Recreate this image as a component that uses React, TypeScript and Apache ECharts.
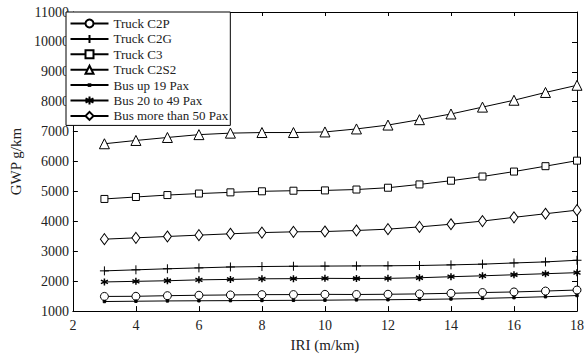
import React, { useEffect, useRef } from "react";
import * as echarts from "echarts";

const iri = [3, 4, 5, 6, 7, 8, 9, 10, 11, 12, 13, 14, 15, 16, 17, 18];
const truckC2P = [1490, 1495, 1515, 1530, 1540, 1550, 1552, 1560, 1555, 1563, 1575, 1595, 1620, 1640, 1670, 1705];
const truckC2G = [2345, 2380, 2415, 2445, 2475, 2490, 2500, 2505, 2510, 2515, 2525, 2545, 2570, 2610, 2645, 2700];
const truckC3 = [4750, 4815, 4880, 4930, 4970, 5005, 5025, 5035, 5065, 5125, 5235, 5360, 5500, 5665, 5845, 6030];
const truckC2S2 = [6595, 6705, 6805, 6900, 6950, 6970, 6970, 6990, 7090, 7220, 7400, 7590, 7820, 8050, 8310, 8550];
const busUp19 = [1320, 1330, 1340, 1345, 1350, 1355, 1360, 1365, 1375, 1380, 1390, 1405, 1425, 1450, 1480, 1520];
const bus20to49 = [1975, 1995, 2015, 2045, 2060, 2080, 2085, 2095, 2090, 2095, 2115, 2150, 2180, 2215, 2250, 2285];
const busOver50 = [3405, 3450, 3495, 3540, 3585, 3625, 3650, 3660, 3695, 3740, 3815, 3905, 4010, 4135, 4255, 4375];

const xTicks = { min: 2, max: 18, interval: 2 };
const yTicks = { min: 1000, max: 11000, interval: 1000 };

const FONT = "Liberation Serif";
const PLUS = "path://M5,0L5,10M0,5L10,5";
const STAR = "path://M5,0L5,10M0.67,2.5L9.33,7.5M0.67,7.5L9.33,2.5";
const DOT = "path://M0,0M10,10M4,4L6,4L6,6L4,6Z";

export default function App() {
  const ref = useRef<HTMLDivElement>(null);
  useEffect(() => {
    if (!ref.current) return;
    const chart = echarts.init(ref.current, undefined, { renderer: "svg" });
    const pairs = (vals: number[]) => iri.map((x, i) => [x, vals[i]]);
    const mk = (name: string, vals: number[], symbol: string, size: any, opts: any = {}) => ({
      name,
      type: "line",
      data: pairs(vals),
      symbol,
      symbolSize: size,
      showAllSymbol: true,
      lineStyle: { color: "#000", width: 1 },
      itemStyle: { color: "#fff", borderColor: "#000", borderWidth: 1, ...(opts.itemStyle || {}) },
      emphasis: { disabled: true },
    });
    const axisLine = { show: true, lineStyle: { color: "#000", width: 1 } };
    const fmt = (v: number) => String(v);
    chart.setOption({
      animation: false,
      backgroundColor: "#fff",
      grid: { left: 66, right: 10, top: 12, bottom: 42, containLabel: false },
      legend: {
        orient: "vertical",
        left: 66,
        top: 12,
        padding: [5, 2, 3, 3.5],
        itemWidth: 38,
        itemHeight: 10,
        itemGap: 2.4,
        borderColor: "#000",
        borderWidth: 1,
        backgroundColor: "#fff",
        textStyle: { fontFamily: FONT, fontSize: 13, color: "#222" },
        data: [
          "Truck C2P",
          "Truck C2G",
          "Truck C3",
          "Truck C2S2",
          "Bus up 19 Pax",
          "Bus 20 to 49 Pax",
          "Bus more than 50 Pax",
        ],
      },
      xAxis: [
        {
          type: "value",
          position: "bottom",
          ...xTicks,
          axisLine,
          axisTick: { show: true, inside: true, length: 5, lineStyle: { color: "#000" } },
          axisLabel: { fontFamily: FONT, fontSize: 14, color: "#222", margin: 7, formatter: fmt },
          splitLine: { show: false },
          name: "IRI (m/km)",
          nameLocation: "middle",
          nameGap: 25,
          nameTextStyle: { fontFamily: FONT, fontSize: 15, color: "#222" },
        },
        {
          type: "value",
          position: "top",
          ...xTicks,
          axisLine,
          axisTick: { show: true, inside: true, length: 4, lineStyle: { color: "#000" } },
          axisLabel: { show: false },
          splitLine: { show: false },
        },
      ],
      yAxis: [
        {
          type: "value",
          position: "left",
          ...yTicks,
          axisLine,
          axisTick: { show: true, inside: true, length: 5, lineStyle: { color: "#000" } },
          axisLabel: { fontFamily: FONT, fontSize: 14, color: "#222", margin: 4, formatter: fmt },
          splitLine: { show: false },
          name: "GWP g/km",
          nameLocation: "middle",
          nameGap: 47,
          nameTextStyle: { fontFamily: FONT, fontSize: 15, color: "#222" },
        },
        {
          type: "value",
          position: "right",
          ...yTicks,
          axisLine,
          axisTick: { show: true, inside: true, length: 5, lineStyle: { color: "#000" } },
          axisLabel: { show: false },
          splitLine: { show: false },
        },
      ],
      series: [
        mk("Truck C2P", truckC2P, "circle", 8),
        mk("Truck C2G", truckC2G, PLUS, 9),
        mk("Truck C3", truckC3, "rect", 7),
        mk("Truck C2S2", truckC2S2, "triangle", 10),
        mk("Bus up 19 Pax", busUp19, DOT, 12, { itemStyle: { color: "#000" } }),
        mk("Bus 20 to 49 Pax", bus20to49, STAR, 7, { itemStyle: { borderWidth: 1.5 } }),
        mk("Bus more than 50 Pax", busOver50, "diamond", [8, 11]),
      ],
    });
    return () => chart.dispose();
  }, []);
  return (
    <div
      ref={ref}
      style={{ position: "fixed", left: 0, top: 0, width: 587, height: 357, background: "#fff" }}
    />
  );
}
